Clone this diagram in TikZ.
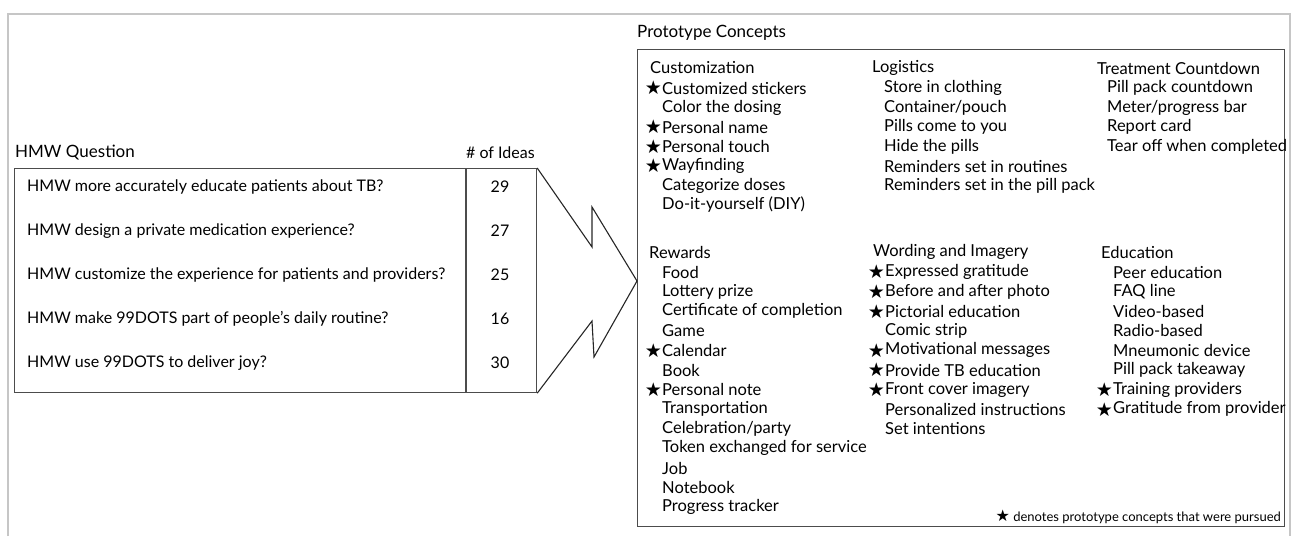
\documentclass[tikz,border=0pt]{standalone}
\usepackage{fontspec}
\setmainfont{Lato}
\newfontfamily\symfont{DejaVu Sans}
\usetikzlibrary{positioning}
\tikzset{
  frame/.style={draw=gray!45, line width=1.5pt},
  tbox/.style={draw=black!70, line width=1.2pt, inner sep=0pt},
  arrowline/.style={draw=black!85, line width=1.1pt, line join=miter},
  ttl/.style={anchor=west, inner sep=0pt, font=\fontsize{17}{20}\selectfont},
  hmw/.style={anchor=west, inner sep=0pt, font=\fontsize{16}{19}\selectfont},
  cnt/.style={inner sep=0pt, font=\fontsize{16}{19}\selectfont},
  head/.style={anchor=west, inner sep=0pt, font=\fontsize{16.5}{19}\selectfont},
  item/.style={anchor=west, inner sep=0pt, font=\fontsize{16.5}{19}\selectfont},
  starlbl/.style={inner sep=0pt, font=\symfont\fontsize{19}{20}\selectfont},
  pursued/.style={label={[starlbl, label distance=0pt]left:★}},
  plain/.style={},
  note/.style={inner sep=0pt, font=\fontsize{13}{15}\selectfont}
}
\begin{document}
\begin{tikzpicture}[x=1pt, y=-1pt]
  \useasboundingbox (0,0) rectangle (1292,536);
  \draw[frame] (8,536) -- (8,14) -- (1290,14) -- (1290,536);

  % left table
  \node[ttl] (hmwttl) at (15,153) {HMW Question};
  \node[ttl, font=\fontsize{16}{19}\selectfont] (cntttl) at (466,153) {\# of Ideas};
  \node[tbox, anchor=north west, minimum width=522pt, minimum height=224pt] (tbl) at (14,168) {};
  \draw[tbox] (466,168) -- (466,392);
  \foreach \q/\n [count=\i from 0] in {
      HMW more accurately educate patients about TB?/29,
      HMW design a private medication experience?/27,
      HMW customize the experience for patients and providers?/25,
      HMW make 99DOTS part of people’s daily routine?/16,
      HMW use 99DOTS to deliver joy?/30} {
    \node[hmw] (q\i) at (27,{187+44*\i}) {\q};
    \node[cnt] (n\i) at (500,{187+44*\i}) {\n};
  }

  % concepts box
  \node[ttl] (protottl) at (637,33) {Prototype Concepts};
  \node[tbox, anchor=north west, minimum width=647pt, minimum height=477pt] (cbox) at (637,49) {};
  \coordinate (tip) at (637,281);
  \draw[arrowline] (tbl.north east) -- (592,247) -- (592,207) -- (tip)
    -- (594,357) -- (592,321) -- (tbl.south east);

  \node[head] (hcu) at (650,68) {Customization};
  \foreach \k/\t [count=\i from 0] in {pursued/Customized stickers, plain/Color the dosing,
      pursued/Personal name, pursued/Personal touch, pursued/Wayfinding,
      plain/Categorize doses, plain/Do-it-yourself (DIY)}
    \node[item, \k] (cu\i) at (662,{88+19.5*\i}) {\t};

  \node[head] (hlo) at (872,68) {Logistics};
  \foreach \t [count=\i from 0] in {Store in clothing, Container/pouch, Pills come to you,
      Hide the pills, Reminders set in routines, Reminders set in the pill pack}
    \node[item] (lo\i) at (884,{88+19.5*\i}) {\t};

  \node[head] (htc) at (1097,68) {Treatment Countdown};
  \foreach \t [count=\i from 0] in {Pill pack countdown, Meter/progress bar, Report card,
      Tear off when completed}
    \node[item] (tc\i) at (1107,{88+19.5*\i}) {\t};

  \node[head] (hre) at (649,252) {Rewards};
  \foreach \k/\t [count=\i from 0] in {plain/Food, plain/Lottery prize,
      plain/Certificate of completion, plain/Game, pursued/Calendar, plain/Book,
      pursued/Personal note, plain/Transportation, plain/{Celebration/party},
      plain/Token exchanged for service, plain/Job, plain/Notebook, plain/Progress tracker}
    \node[item, \k] (re\i) at (662,{272+19.6*\i}) {\t};

  \node[head] (hwo) at (873,252) {Wording and Imagery};
  \foreach \k/\t [count=\i from 0] in {pursued/Expressed gratitude,
      pursued/Before and after photo, pursued/Pictorial education, plain/Comic strip,
      pursued/Motivational messages, pursued/Provide TB education,
      pursued/Front cover imagery, plain/Personalized instructions, plain/Set intentions}
    \node[item, \k] (wo\i) at (885,{272+19.6*\i}) {\t};

  \node[head] (hed) at (1101,252) {Education};
  \foreach \k/\t [count=\i from 0] in {plain/Peer education, plain/FAQ line,
      plain/Video-based, plain/Radio-based, plain/Mneumonic device,
      plain/Pill pack takeaway, pursued/Training providers,
      pursued/Gratitude from provider}
    \node[item, \k] (ed\i) at (1113,{272+19.6*\i}) {\t};

  \node[note, anchor=east] (fn) at (1281,517) {{\symfont\fontsize{16}{16}\selectfont ★} denotes prototype concepts that were pursued};
\end{tikzpicture}
\end{document}
